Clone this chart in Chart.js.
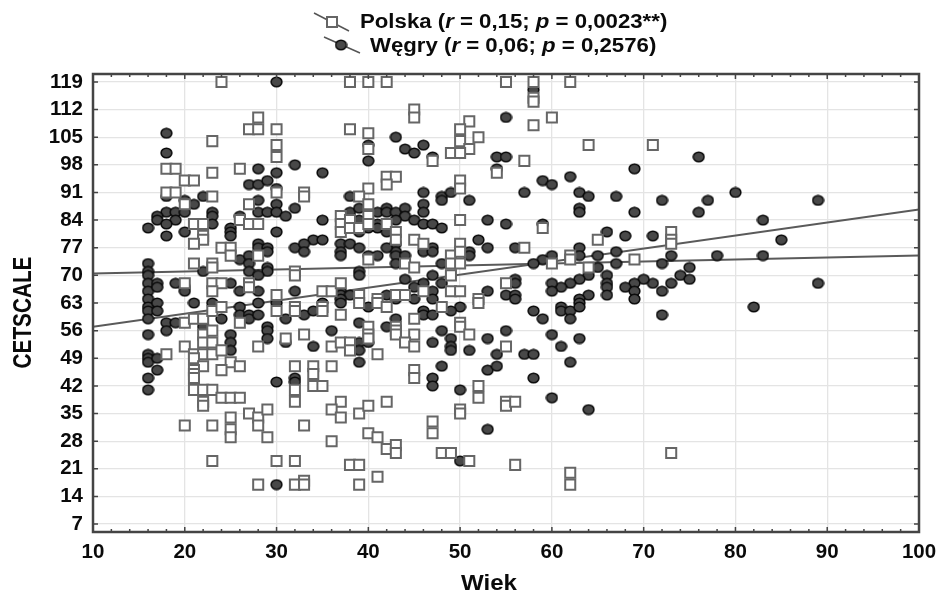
<!DOCTYPE html>
<html>
<head>
<meta charset="utf-8">
<style>
  html, body { margin: 0; padding: 0; background: #fff; }
  canvas { display: block; }
</style>
<script src="https://cdn.jsdelivr.net/npm/chart.js@4"></script>
</head>
<body>
<canvas id="wiekChart" width="940" height="591"></canvas>
<script>
const polskaX = [
  24,28,27,28,30,23,30,30,18,19,23,26,20,21,18,19,20,23,30,27,21,22,22,22,21,24,25,25,26,27,28,28,21,23,23,20,23,24,23,27,27,30,
  18,20,21,22,23,24,22,23,22,23,20,21,22,23,24,21,22,21,21,21,25,26,24,26,28,31,30,21,22,23,24,25,26,22,22,20,23,25,25,25,27,28,28,29,29,23,30,28,
  38,40,42,45,45,51,50,50,52,51,49,50,38,40,40,47,42,43,42,50,50,40,39,40,33,33,50,37,37,37,38,38,39,40,40,42,43,43,40,44,45,45,46,49,49,50,50,50,32,32,49,35,36,37,39,41,43,44,46,49,50,52,
  32,32,35,35,37,39,41,42,45,48,52,50,50,51,45,40,40,40,43,43,43,33,36,37,38,38,41,44,45,32,34,34,36,45,45,32,34,35,32,37,36,37,39,40,42,50,50,33,47,47,36,40,41,42,43,43,48,49,51,32,38,39,41,32,33,33,39,
  55,58,62,58,58,58,60,57,64,71,54,59,73,73,73,65,57,62,62,60,64,69,55,55,52,52,55,55,56,56,62,62,73
];
const polskaY = [
  119,110,107,107,107,104,103,100,97,97,96,97,94,94,91,91,88,90,91,88,83,83,80,79,78,77,77,75,84,83,83,75,73,73,72,68,68,68,66,68,67,65,
  50,58,59,59,61,62,55,56,53,53,52,50,50,50,51,49,47,46,45,44,48,47,46,58,52,54,61,41,41,41,39,39,39,38,37,32,32,34,31,29,35,34,32,36,29,23,23,17,
  119,119,119,112,110,109,107,104,105,102,101,101,107,106,102,99,95,95,93,94,92,92,90,88,91,90,84,85,83,81,84,82,82,85,83,83,81,79,74,73,72,79,78,75,73,78,76,73,71,70,70,66,66,68,65,64,65,65,66,66,66,64,
  62,61,62,61,60,63,63,62,59,62,63,58,57,55,55,57,55,54,57,56,55,55,52,53,53,51,50,53,52,47,47,45,47,46,44,41,42,42,38,38,36,34,35,37,38,36,35,32,33,30,28,30,29,26,27,25,25,25,23,23,22,22,19,17,18,17,17,
  119,119,119,115,114,108,110,99,103,103,96,82,81,79,78,79,77,75,74,73,72,74,68,52,42,39,38,37,38,22,20,17,25
];
const wegryX = [
  30,18,18,28,30,32,27,28,29,30,18,20,21,22,28,30,32,18,19,20,17,17,19,18,16,18,20,23,23,23,25,25,25,26,28,29,30,31,30,32,28,28,29,29,26,27,27,29,29,27,28,16,16,16,16,16,22,17,17,19,20,25,26,28,
  16,16,16,16,16,16,16,16,16,16,17,17,17,17,18,18,19,21,23,24,22,25,25,25,26,26,27,27,28,28,31,29,29,29,31,30,30,30,20,
  40,40,43,44,45,46,47,35,38,35,46,46,46,48,48,49,51,38,39,41,42,42,43,44,44,43,45,46,47,48,39,39,40,41,41,42,43,43,43,43,42,34,35,33,33,37,37,37,38,39,40,41,44,46,47,47,48,51,51,52,39,39,47,44,48,46,45,32,37,37,38,42,47,
  33,34,35,37,37,40,43,45,46,46,47,47,50,49,43,48,49,49,49,51,47,39,42,36,34,39,39,40,39,48,47,47,50,32,32,50,
  58,55,54,55,54,76,69,59,60,62,63,64,67,57,72,63,63,69,76,53,55,59,66,68,71,53,56,63,63,60,59,58,65,67,67,72,73,75,74,75,73,72,71,70,69,68,66,66,66,66,64,65,63,62,61,60,60,56,56,53,55,56,69,69,64,63,56,72,58,59,61,61,62,62,63,63,60,63,61,62,55,53,54,57,58,53,54,58,60,64,53,
  77,80,89,83,85,78,83,89,82
];
const wegryY = [
  119,106,101,97,96,98,93,93,94,92,90,89,88,90,89,88,87,86,86,86,85,84,84,83,82,80,81,86,85,83,82,81,80,85,86,86,86,85,81,77,78,77,77,76,74,75,73,72,71,71,70,73,71,70,68,66,71,68,67,68,67,68,66,66,
  64,62,61,59,55,50,49,48,44,41,63,61,49,46,58,56,58,63,63,59,57,55,53,51,62,60,60,59,60,63,59,57,56,54,53,63,43,17,66,
  103,99,105,102,101,103,100,96,90,84,91,88,86,90,89,91,89,86,87,86,87,86,86,87,85,84,84,83,83,82,84,81,82,83,82,81,78,76,75,73,77,79,79,78,76,78,76,75,78,77,75,75,75,76,77,76,73,76,75,79,71,70,70,69,68,68,67,66,66,65,65,65,66,
  60,61,63,64,63,62,64,64,61,60,60,64,62,61,59,56,54,52,51,51,53,58,57,56,52,53,51,53,48,47,44,42,41,44,43,23,
  117,110,100,100,97,100,97,94,93,95,91,90,90,91,89,87,86,86,86,84,83,83,81,80,80,77,77,77,75,75,74,73,75,76,73,73,75,72,70,69,68,66,68,69,68,67,70,68,67,65,70,72,69,68,67,68,66,69,68,66,65,65,66,64,65,64,64,60,61,59,62,61,61,59,63,62,55,54,52,48,56,54,50,50,50,46,47,44,39,36,31,
  89,91,89,84,79,75,75,68,62
];
const trendX = [10, 100];
const trendPolska = [57, 86.7];
const trendWegry = [70.5, 75];

const yTickValues = [7,14,21,28,35,42,49,56,63,70,77,84,91,98,105,112,119];
const xMinorTicks = [12,14,16,18,22,24,26,28,32,34,36,38,42,44,46,48,52,54,56,58,62,64,66,68,72,74,76,78,82,84,86,88,92,94,96,98];
const xTitle = 'Wiek';
const yTitle = 'CETSCALE';
const legendPolska = [['Polska (', false], ['r', true], [' = 0,15; ', false], ['p', true], [' = 0,0023**)', false]];
const legendWegry = [['Węgry (', false], ['r', true], [' = 0,06; ', false], ['p', true], [' = 0,2576)', false]];

const fontFamily = '"Liberation Sans", Arial, sans-serif';
const textColor = '#0a0a0a';
const toXY = (xs, ys) => xs.map((x, i) => ({ x: x, y: ys[i] }));

// slightly wide oval marker, the picture is stretched sideways
function makeOval() {
  const c = document.createElement('canvas');
  c.width = 13;
  c.height = 12;
  const g = c.getContext('2d');
  g.beginPath();
  g.ellipse(6.5, 6, 5.4, 4.8, 0, 0, Math.PI * 2);
  g.fillStyle = '#484848';
  g.fill();
  g.lineWidth = 1.5;
  g.strokeStyle = '#0a0a0a';
  g.stroke();
  return c;
}
const oval = makeOval();

const axisColor = '#444';

const framePlugin = {
  id: 'frame',
  afterDatasetsDraw(chart) {
    const { ctx, chartArea: a, scales } = chart;
    ctx.save();
    ctx.strokeStyle = axisColor;
    ctx.lineWidth = 1.5;
    ctx.beginPath();
    xMinorTicks.forEach((v) => {
      const px = scales.x.getPixelForValue(v);
      ctx.moveTo(px, a.bottom); ctx.lineTo(px, a.bottom - 3);
      ctx.moveTo(px, a.top); ctx.lineTo(px, a.top + 3);
    });
    scales.x.ticks.forEach((t) => {
      const px = scales.x.getPixelForValue(t.value);
      ctx.moveTo(px, a.bottom); ctx.lineTo(px, a.bottom - 5);
      ctx.moveTo(px, a.top); ctx.lineTo(px, a.top + 5);
    });
    yTickValues.forEach((v) => {
      const py = scales.y.getPixelForValue(v);
      ctx.moveTo(a.left, py); ctx.lineTo(a.left + 5, py);
      ctx.moveTo(a.right, py); ctx.lineTo(a.right - 5, py);
    });
    ctx.stroke();
    ctx.lineWidth = 2.5;
    ctx.strokeRect(a.left, a.top, a.right - a.left, a.bottom - a.top);
    ctx.restore();
  }
};

// the text in the reference is wider than the font, so stretch it a bit
function drawLegendRow(ctx, parts, x, y, stretch) {
  ctx.save();
  ctx.translate(x, y);
  ctx.scale(stretch, 1);
  let cx = 0;
  parts.forEach(([text, italic]) => {
    ctx.font = (italic ? 'italic ' : '') + 'bold 20px ' + fontFamily;
    ctx.fillText(text, cx, 0);
    cx += ctx.measureText(text).width;
  });
  ctx.restore();
}

const legendPlugin = {
  id: 'twoRowLegend',
  afterDraw(chart) {
    const ctx = chart.ctx;
    ctx.save();
    ctx.strokeStyle = '#555';
    ctx.lineWidth = 1.5;
    ctx.beginPath();
    ctx.moveTo(314, 13); ctx.lineTo(349, 31);
    ctx.moveTo(324, 37); ctx.lineTo(360, 53);
    ctx.stroke();
    ctx.fillStyle = '#fff';
    ctx.strokeStyle = '#666';
    ctx.lineWidth = 2;
    ctx.fillRect(327, 17, 10, 10);
    ctx.strokeRect(327, 17, 10, 10);
    ctx.drawImage(oval, 334.5, 39);
    ctx.fillStyle = textColor;
    ctx.textBaseline = 'alphabetic';
    drawLegendRow(ctx, legendPolska, 360, 28, 1.11);
    drawLegendRow(ctx, legendWegry, 370, 52, 1.11);
    ctx.restore();
  }
};

// axis titles sit off centre here, chart.js title options can't place them
const titlesPlugin = {
  id: 'axisTitles',
  afterDraw(chart) {
    const ctx = chart.ctx;
    ctx.fillStyle = textColor;
    ctx.textAlign = 'center';
    ctx.textBaseline = 'alphabetic';
    ctx.save();
    ctx.translate(489, 590);
    ctx.scale(1.12, 1);
    ctx.font = 'bold 21.5px ' + fontFamily;
    ctx.fillText(xTitle, 0, 0);
    ctx.restore();
    ctx.save();
    ctx.translate(31, 312.5);
    ctx.rotate(-Math.PI / 2);
    ctx.scale(0.83, 1);
    ctx.font = 'bold 25px ' + fontFamily;
    ctx.fillText(yTitle, 0, 0);
    ctx.restore();
  }
};

const tickFont = { family: fontFamily, size: 20.5, weight: 'bold' };

new Chart(document.getElementById('wiekChart'), {
  type: 'scatter',
  data: {
    datasets: [
      {
        label: 'Polska',
        data: toXY(polskaX, polskaY),
        pointStyle: 'rect',
        pointRadius: 7.1,
        pointBackgroundColor: '#fff',
        pointBorderColor: '#666',
        pointBorderWidth: 2,
        order: 1
      },
      {
        label: 'Węgry',
        data: toXY(wegryX, wegryY),
        pointStyle: oval,
        order: 2
      },
      {
        label: 'Polska trend',
        type: 'line',
        data: toXY(trendX, trendPolska),
        borderColor: '#5a5a5a',
        borderWidth: 2,
        pointRadius: 0,
        order: 3
      },
      {
        label: 'Węgry trend',
        type: 'line',
        data: toXY(trendX, trendWegry),
        borderColor: '#5a5a5a',
        borderWidth: 2,
        pointRadius: 0,
        order: 3
      }
    ]
  },
  options: {
    responsive: false,
    animation: false,
    layout: { padding: { top: 74, right: 21, left: 0, bottom: 0 } },
    plugins: { legend: { display: false }, tooltip: { enabled: false } },
    scales: {
      x: {
        type: 'linear',
        min: 10,
        max: 100,
        ticks: { stepSize: 10, color: textColor, font: tickFont, padding: 8, maxRotation: 0 },
        grid: { color: '#e4e4e4', lineWidth: 1.3, drawTicks: false },
        border: { display: false },
        afterFit(scale) { scale.height = 59; scale.paddingRight = 0; }
      },
      y: {
        type: 'linear',
        min: 5,
        max: 121,
        afterBuildTicks(scale) { scale.ticks = yTickValues.map((v) => ({ value: v })); },
        ticks: { color: textColor, font: tickFont, padding: 10 },
        grid: { color: '#e4e4e4', lineWidth: 1.3, drawTicks: false },
        border: { display: false },
        afterFit(scale) { scale.width = 93; }
      }
    }
  },
  plugins: [framePlugin, legendPlugin, titlesPlugin]
});
</script>
</body>
</html>
